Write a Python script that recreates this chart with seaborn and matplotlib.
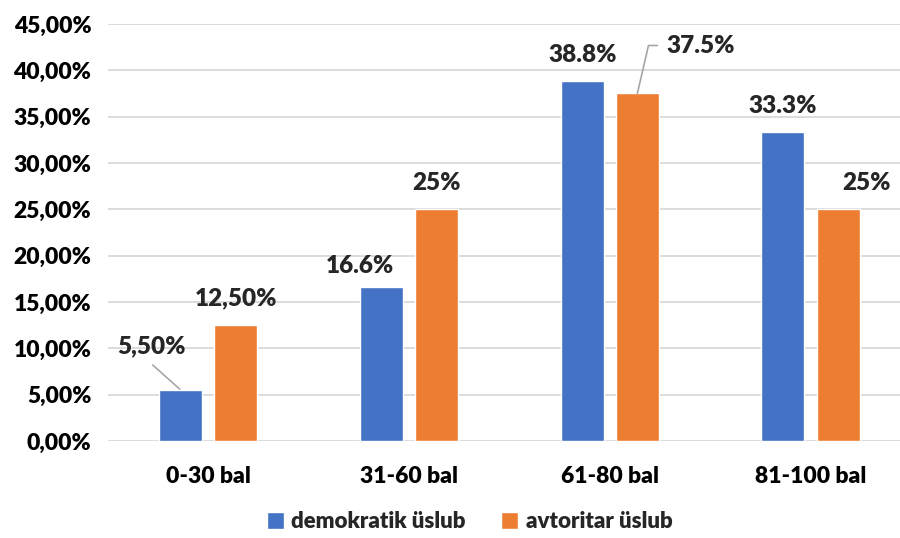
import pandas as pd
import seaborn as sns
import matplotlib.pyplot as plt
from matplotlib.ticker import FuncFormatter, MultipleLocator

# === DATA ===
categories = ["0-30 bal", "31-60 bal", "61-80 bal", "81-100 bal"]
series_names = ["demokratik üslub", "avtoritar üslub"]
demokratik = [5.5, 16.6, 38.8, 33.3]
avtoritar = [12.5, 25.0, 37.5, 25.0]
demokratik_labels = ["5,50%", "16.6%", "38.8%", "33.3%"]
avtoritar_labels = ["12,50%", "25%", "37.5%", "25%"]
colors = ["#4472C4", "#ED7D31"]

df = pd.DataFrame({
    "bal": categories * 2,
    "pct": demokratik + avtoritar,
    "uslub": [series_names[0]] * len(categories) + [series_names[1]] * len(categories),
})

# label offsets (pixels from top-centre of each bar)
demo_offsets = [(-29, 44), (-22, 21), (0, 26), (0, 26)]
avt_offsets = [(0, 27), (0, 26), (63, 47), (28, 26)]

WEIGHT = "heavy"

sns.set_theme(style="white")
plt.rcParams["font.family"] = ["Lato", "DejaVu Sans"]
plt.rcParams["font.weight"] = WEIGHT

fig = plt.figure(figsize=(9, 5.38), dpi=100)
ax = fig.add_axes([0.12, 0.1803, 0.88, 0.7751])

sns.barplot(data=df, x="bal", y="pct", hue="uslub", palette=colors,
            width=0.55, gap=0.22, errorbar=None, saturation=1, ax=ax)

ax.set_ylim(0, 45)
ax.set_xlim(-0.5, 3.446)
ax.yaxis.set_major_locator(MultipleLocator(5))
ax.yaxis.set_major_formatter(FuncFormatter(lambda v, p: f"{v:.2f}%".replace(".", ",")))
ax.grid(axis="y", color="#D9D9D9", linewidth=1.3)
ax.set_axisbelow(True)
for s in ax.spines.values():
    s.set_visible(False)
ax.tick_params(axis="both", length=0, labelsize=16.5, colors="black")
ax.tick_params(axis="x", pad=18)
ax.tick_params(axis="y", pad=12)
for t in ax.get_xticklabels() + ax.get_yticklabels():
    t.set_fontweight(WEIGHT)
ax.set_xlabel("")
ax.set_ylabel("")

# === data labels ===
all_labels = [demokratik_labels, avtoritar_labels]
all_offsets = [demo_offsets, avt_offsets]
for container, labels, offsets in zip(ax.containers, all_labels, all_offsets):
    for bar, lab, (dx, dy) in zip(container, labels, offsets):
        x = bar.get_x() + bar.get_width() / 2
        y = bar.get_height()
        ax.annotate(lab, (x, y), xytext=(dx, dy), textcoords="offset pixels",
                    ha="center", va="center", fontsize=17.5, fontweight=WEIGHT)

# leader lines
b = ax.containers[0][0]
ax.annotate("", (b.get_x() + b.get_width() / 2, b.get_height()),
            xytext=(-28, 25), textcoords="offset pixels",
            arrowprops=dict(arrowstyle="-", color="#A6A6A6", lw=1.2, shrinkA=0, shrinkB=1))
b = ax.containers[1][2]
ax.annotate("", (b.get_x() + b.get_width() / 2, b.get_height()),
            xytext=(20, 48), textcoords="offset pixels",
            arrowprops=dict(arrowstyle="-", color="#A6A6A6", lw=1.2, shrinkA=0, shrinkB=0,
                            connectionstyle="angle,angleA=0,angleB=77,rad=0"))

# === legend ===
handles, labels = ax.get_legend_handles_labels()
ax.get_legend().remove()
fig.legend(handles, labels, loc="center", bbox_to_anchor=(0.522, 0.03), ncol=2,
           frameon=False, handlelength=0.75, handleheight=0.75, handletextpad=0.35,
           columnspacing=1.6, borderpad=0.1, prop={"size": 16, "weight": WEIGHT})

fig.savefig("out.png", dpi=100)
